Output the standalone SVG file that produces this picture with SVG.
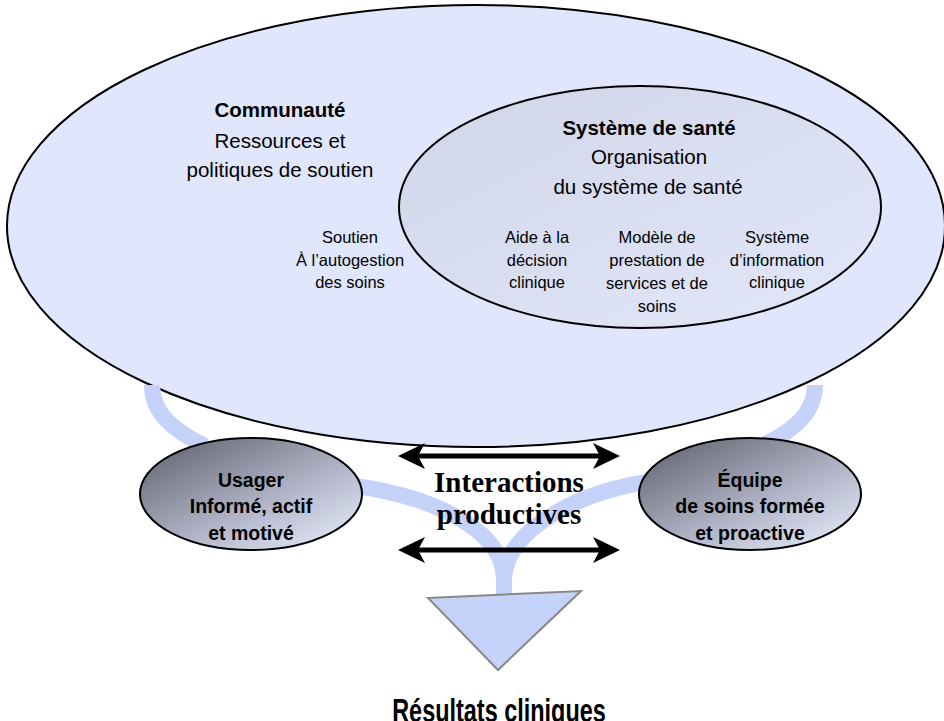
<svg xmlns="http://www.w3.org/2000/svg" width="944" height="721" viewBox="0 0 944 721">
<defs>
<linearGradient id="gInner" x1="0" y1="0" x2="1" y2="1">
<stop offset="0" stop-color="#d0d5e8"/>
<stop offset="1" stop-color="#e2e7fa"/>
</linearGradient>
<linearGradient id="gPerson" x1="0.1" y1="0.1" x2="0.9" y2="0.95">
<stop offset="0" stop-color="#6a6c78"/>
<stop offset="0.55" stop-color="#aeb2c4"/>
<stop offset="1" stop-color="#e2e7f8"/>
</linearGradient>
<path id="headL" d="M0,0 L27,-13 L20,0 L27,13 Z"/>
</defs>
<style>
.sans{font-family:"Liberation Sans",Arial,sans-serif;fill:#000;text-anchor:middle}
.big{font-size:20.5px}
.sm{font-size:16.5px}
.b{font-weight:bold}
.pers{font-size:19.5px;font-weight:bold}
.serif{font-family:"Liberation Serif","Times New Roman",serif;font-weight:bold;font-size:29px;text-anchor:middle;fill:#000}
.band{fill:none;stroke:#c5d3fb;stroke-width:16}
.ell{stroke:#000;stroke-width:2}
.arr{stroke:#000;stroke-width:5}
</style>
<rect width="944" height="721" fill="#fff"/>

<g id="community">
<ellipse class="ell" cx="476" cy="226" rx="469" ry="221" fill="#e0e6fb"/>
<text class="sans big b" x="280" y="117">Communauté</text>
<text class="sans big" x="280" y="148">Ressources et</text>
<text class="sans big" x="280" y="177">politiques de soutien</text>
<text class="sans sm" x="350" y="243">Soutien</text>
<text class="sans sm" x="350" y="266">À l’autogestion</text>
<text class="sans sm" x="350" y="288">des soins</text>
</g>

<g id="health-system">
<ellipse class="ell" cx="640" cy="207" rx="241" ry="121" fill="url(#gInner)"/>
<text class="sans big b" x="649" y="135">Système de santé</text>
<text class="sans big" x="649" y="164">Organisation</text>
<text class="sans big" x="648" y="194">du système de santé</text>
<text class="sans sm" x="537" y="243">Aide à la</text>
<text class="sans sm" x="537" y="266">décision</text>
<text class="sans sm" x="537" y="288">clinique</text>
<text class="sans sm" x="657" y="243">Modèle de</text>
<text class="sans sm" x="657" y="266">prestation de</text>
<text class="sans sm" x="657" y="289">services et de</text>
<text class="sans sm" x="657" y="312">soins</text>
<text class="sans sm" x="777" y="243">Système</text>
<text class="sans sm" x="777" y="266">d’information</text>
<text class="sans sm" x="777" y="288">clinique</text>
</g>

<g id="connectors">
<path class="band" d="M152,385 C152,412 172,430 205,446"/>
<path class="band" d="M815,385 C815,412 795,430 762,446"/>
<path class="band" d="M340,484 C430,494 502,528 504,578 L504,596"/>
<path class="band" d="M660,480 C580,490 508,528 504,578"/>
<g id="arrow-top">
<line class="arr" x1="412" y1="456" x2="606" y2="456"/>
<use href="#headL" transform="translate(398 456)"/>
<use href="#headL" transform="translate(620 456) scale(-1 1)"/>
</g>
<g id="arrow-bottom">
<line class="arr" x1="412" y1="550" x2="606" y2="550"/>
<use href="#headL" transform="translate(398 550)"/>
<use href="#headL" transform="translate(620 550) scale(-1 1)"/>
</g>
</g>

<g id="interactions">
<text class="serif" x="509" y="492">Interactions</text>
<text class="serif" x="509" y="524">productives</text>
</g>

<g id="patient">
<ellipse class="ell" cx="251" cy="494" rx="111" ry="56" fill="url(#gPerson)"/>
<text class="sans pers" x="251" y="487">Usager</text>
<text class="sans pers" x="251" y="513">Informé, actif</text>
<text class="sans pers" x="251" y="540">et motivé</text>
</g>

<g id="team">
<ellipse class="ell" cx="750" cy="494" rx="111" ry="56" fill="url(#gPerson)"/>
<text class="sans pers" x="750" y="487">Équipe</text>
<text class="sans pers" x="750" y="513">de soins formée</text>
<text class="sans pers" x="750" y="540">et proactive</text>
</g>

<g id="outcomes">
<polygon points="428,598 581,591 498,670" fill="#c5d3fb" stroke="#888" stroke-width="2"/>
<text class="sans b" font-size="34" transform="translate(499 721.5) scale(0.69 1)" x="0" y="0">Résultats cliniques</text>
</g>
</svg>
